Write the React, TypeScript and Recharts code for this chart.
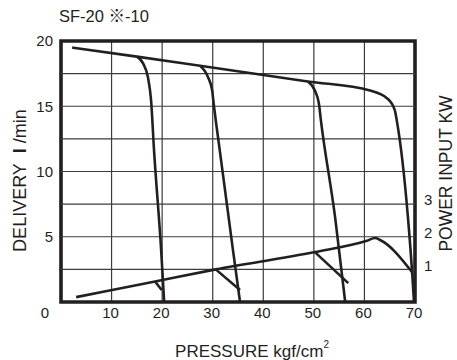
import { ComposedChart, Line, XAxis, YAxis, CartesianGrid, ReferenceArea } from "recharts";

const FONT = "'Liberation Sans', Arial, 'Noto Sans CJK JP', sans-serif";
const INK = "#231f20";
const GRID = "#3c3c3c";

// pressure (kgf/cm2) ticks and delivery (l/min) grid steps
const pressureTicks = [0, 10, 20, 30, 40, 50, 60, 70];
const deliveryTicks = [0, 2.5, 5, 7.5, 10, 12.5, 15, 17.5, 20];
const powerTicks = [1, 2, 3];

// delivery: main line, ending in the 70 kgf/cm2 cut-off
const deliveryMain = [
  { p: 2.2, d: 19.5 },
  { p: 15.0, d: 18.8 },
  { p: 27.5, d: 18.1 },
  { p: 48.8, d: 16.9 },
  { p: 61.1, d: 16.2 },
  { p: 64.5, d: 15.6 },
  { p: 66.0, d: 14.7 },
  { p: 66.4, d: 13.9 },
  { p: 68.6, d: 6.5 },
  { p: 69.4, d: 2.45 },
  { p: 69.8, d: 0 },
];
// delivery cut-off curves at 20, 35, 55
const cutoff20 = [
  { p: 15.0, d: 18.8 },
  { p: 16.2, d: 18.3 },
  { p: 17.2, d: 17.2 },
  { p: 17.8, d: 15.5 },
  { p: 18.4, d: 11.6 },
  { p: 19.8, d: 4.0 },
  { p: 20.4, d: 0 },
];
const cutoff35 = [
  { p: 27.5, d: 18.1 },
  { p: 29.1, d: 17.2 },
  { p: 29.9, d: 16.2 },
  { p: 30.1, d: 15.5 },
  { p: 31.4, d: 11.6 },
  { p: 34.0, d: 4.0 },
  { p: 35.4, d: 0 },
];
const cutoff55 = [
  { p: 48.8, d: 16.9 },
  { p: 50.2, d: 16.2 },
  { p: 51.0, d: 15.2 },
  { p: 51.4, d: 13.9 },
  { p: 54.2, d: 6.5 },
  { p: 56.2, d: 0 },
];

// power input (kW)
const powerMain = [
  { p: 3.0, kw: 0.15 },
  { p: 18.6, kw: 0.63 },
  { p: 30.6, kw: 1.0 },
  { p: 50.2, kw: 1.53 },
  { p: 60.5, kw: 1.88 },
  { p: 62.1, kw: 1.96 },
  { p: 63.1, kw: 1.9 },
  { p: 69.4, kw: 0.92 },
];
const power20 = [
  { p: 18.6, kw: 0.63 },
  { p: 19.9, kw: 0.37 },
];
const power35 = [
  { p: 30.6, kw: 1.0 },
  { p: 35.4, kw: 0.37 },
];
const power55 = [
  { p: 50.2, kw: 1.53 },
  { p: 56.8, kw: 0.58 },
];

// horizontal grid rows (every 2.5 l/min, across the full pressure range)
const gridRows = deliveryTicks.slice(1, -1).map((v) => [
  { p: pressureTicks[0], d: v },
  { p: pressureTicks[pressureTicks.length - 1], d: v },
]);

const textStyle = { fontFamily: FONT, fill: INK };

function PressureTick(props: any) {
  const { x, y, payload } = props;
  const dx = payload.value === 0 ? -16 : -1;
  return (
    <text x={x + dx} y={y} dy="0.71em" textAnchor="middle" fontSize={15} style={textStyle}>
      {payload.value}
    </text>
  );
}

function DeliveryTick(props: any) {
  const { x, y, payload } = props;
  const v = payload.value;
  if (v === 0 || v % 5 !== 0) return <g />;
  return (
    <text x={x} y={y} dy="0.355em" textAnchor="end" fontSize={15} style={textStyle}>
      {v}
    </text>
  );
}

function PowerTick(props: any) {
  const { x, y, payload } = props;
  return (
    <text x={x} y={y - 4} dy="0.355em" textAnchor="start" fontSize={15} style={textStyle}>
      {payload.value}
    </text>
  );
}

function DeliveryTitle(props: any) {
  const { x, y, height } = props.viewBox;
  const cx = x + 20;
  const cy = y + height / 2 + 9;
  return (
    <text
      x={cx}
      y={cy}
      transform={`rotate(-90 ${cx} ${cy})`}
      textAnchor="middle"
      dominantBaseline="central"
      fontSize={18}
      style={textStyle}
    >
      {"DELIVERY\u00a0\u00a0"}
      <tspan fontWeight="bold">l</tspan>
      {"\u00a0/min"}
    </text>
  );
}

function PowerTitle(props: any) {
  const { x, y, height } = props.viewBox;
  const cx = x + 31;
  const cy = y + height / 2 + 2;
  return (
    <text
      x={cx}
      y={cy}
      transform={`rotate(-90 ${cx} ${cy})`}
      textAnchor="middle"
      dominantBaseline="central"
      fontSize={17.5}
      style={textStyle}
    >
      POWER INPUT KW
    </text>
  );
}

function PressureTitle(props: any) {
  const { x, y, width } = props.viewBox;
  return (
    <text x={x + width / 2 + 14} y={y + 55} textAnchor="middle" fontSize={17} style={textStyle}>
      PRESSURE kgf/cm
      <tspan fontSize={10} dy={-9}>2</tspan>
    </text>
  );
}

export default function App() {
  const lineProps = {
    stroke: INK,
    strokeWidth: 2.6,
    dot: false,
    activeDot: false,
    isAnimationActive: false,
    type: "monotone" as const,
  };
  const gridProps = {
    dataKey: "d",
    stroke: GRID,
    strokeWidth: 1.2,
    dot: false,
    activeDot: false,
    isAnimationActive: false,
    type: "linear" as const,
  };

  return (
    <div style={{ position: "absolute", left: 0, top: 0, width: 457, height: 360, background: "#fff" }}>
      <div
        style={{
          position: "absolute",
          left: 59,
          top: 8,
          fontFamily: FONT,
          fontSize: 16.5,
          lineHeight: "16px",
          color: INK,
          whiteSpace: "nowrap",
        }}
      >
        SF-20 ※-10
      </div>
      <ComposedChart width={457} height={360} margin={{ top: 41, right: 0, bottom: 0, left: 0 }}>
        <CartesianGrid horizontal={false} stroke={GRID} strokeWidth={1.2} />
        <XAxis
          type="number"
          dataKey="p"
          domain={[0, 70]}
          ticks={pressureTicks}
          interval={0}
          height={58}
          tickLine={false}
          axisLine={false}
          tickSize={0}
          tickMargin={5}
          tick={PressureTick}
          label={PressureTitle}
        />
        <YAxis
          type="number"
          domain={[0, 20]}
          ticks={deliveryTicks}
          interval={0}
          width={61}
          tickLine={false}
          axisLine={false}
          tickSize={0}
          tickMargin={8}
          tick={DeliveryTick}
          label={DeliveryTitle}
        />
        <YAxis
          yAxisId="right"
          orientation="right"
          type="number"
          domain={[0, 8]}
          ticks={powerTicks}
          interval={0}
          width={42}
          tickLine={false}
          axisLine={false}
          tickSize={0}
          tickMargin={9}
          tick={PowerTick}
          label={PowerTitle}
        />
        <Line data={gridRows[0]} {...gridProps} />
        <Line data={gridRows[1]} {...gridProps} />
        <Line data={gridRows[2]} {...gridProps} />
        <Line data={gridRows[3]} {...gridProps} />
        <Line data={gridRows[4]} {...gridProps} />
        <Line data={gridRows[5]} {...gridProps} />
        <Line data={gridRows[6]} {...gridProps} />
        <Line data={deliveryMain} dataKey="d" {...lineProps} />
        <Line data={cutoff20} dataKey="d" {...lineProps} />
        <Line data={cutoff35} dataKey="d" {...lineProps} />
        <Line data={cutoff55} dataKey="d" {...lineProps} />
        <Line yAxisId="right" data={powerMain} dataKey="kw" {...lineProps} />
        <Line yAxisId="right" data={power20} dataKey="kw" {...lineProps} type="linear" />
        <Line yAxisId="right" data={power35} dataKey="kw" {...lineProps} type="linear" />
        <Line yAxisId="right" data={power55} dataKey="kw" {...lineProps} type="linear" />
        <ReferenceArea
          x1={0}
          x2={70}
          y1={0}
          y2={20}
          fill="none"
          fillOpacity={0}
          stroke={INK}
          strokeWidth={3.6}
          ifOverflow="visible"
        />
      </ComposedChart>
    </div>
  );
}
